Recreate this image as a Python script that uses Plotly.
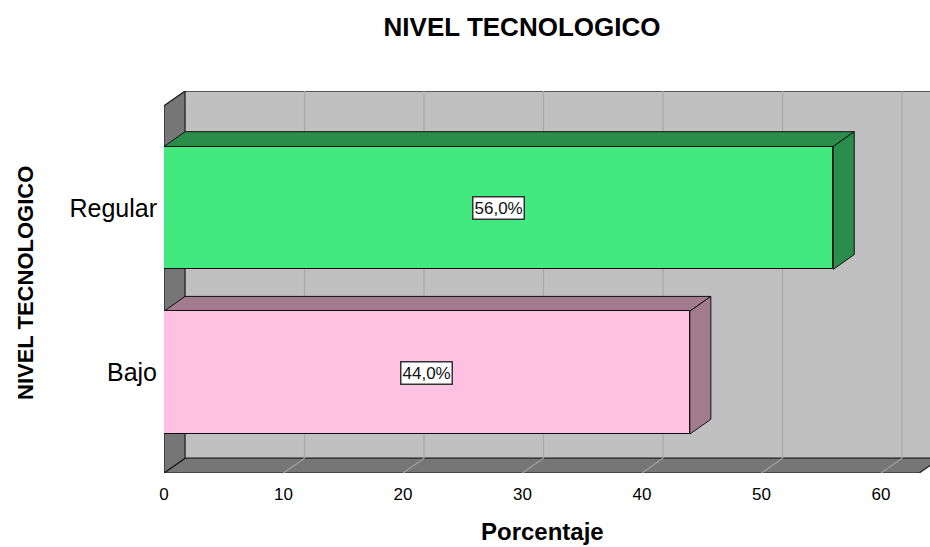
import plotly.graph_objects as go

# Data
categories = ["Bajo", "Regular"]
percentages = [44.0, 56.0]
front_colors = ["#FEC1E1", "#41E97E"]
side_colors = ["#A27C8C", "#2A8D4A"]
x_ticks = [0, 10, 20, 30, 40, 50, 60]

# Pseudo-3D geometry (axis units)
DX, DY = 1.76, 0.09          # depth offset of the back plane
HALF = 0.373                 # half bar thickness
Y_FLOOR, Y_TOP = -0.609, 1.62
X_RANGE = [0, 64.1]
FLOOR_END = 63.2
FONT = "Liberation Sans, Arial"

def poly(pts):
    return "M " + " L ".join(f"{x},{y}" for x, y in pts) + " Z"

shapes = []
# back wall
shapes.append(dict(type="path", layer="below", xref="x", yref="y",
                   path=poly([(DX, Y_FLOOR + DY), (80, Y_FLOOR + DY), (80, Y_TOP + DY), (DX, Y_TOP + DY)]),
                   fillcolor="#C0C0C0", line=dict(width=0)))
shapes.append(dict(type="line", layer="below", xref="x", yref="y",
                   x0=DX, x1=80, y0=Y_TOP + DY, y1=Y_TOP + DY, line=dict(color="#333333", width=1.5)))
# floor
shapes.append(dict(type="path", layer="below", xref="x", yref="y",
                   path=poly([(0, Y_FLOOR), (FLOOR_END, Y_FLOOR), (FLOOR_END + DX, Y_FLOOR + DY), (DX, Y_FLOOR + DY)]),
                   fillcolor="#767676", line=dict(color="#1a1a1a", width=1.2)))
# left wall
shapes.append(dict(type="path", layer="below", xref="x", yref="y",
                   path=poly([(0, Y_FLOOR), (0, Y_TOP), (DX, Y_TOP + DY), (DX, Y_FLOOR + DY)]),
                   fillcolor="#767676", line=dict(color="#1a1a1a", width=1.2)))
# grid lines on back wall and floor
for t in x_ticks[1:]:
    shapes.append(dict(type="line", layer="below", xref="x", yref="y",
                       x0=t + DX, x1=t + DX, y0=Y_FLOOR + DY, y1=Y_TOP + DY,
                       line=dict(color="#A8A8A8", width=1.2)))
    shapes.append(dict(type="line", layer="below", xref="x", yref="y",
                       x0=t, x1=t + DX, y0=Y_FLOOR, y1=Y_FLOOR + DY,
                       line=dict(color="#A0A0A0", width=1.2)))
# bar top and side faces
for i, (v, sc) in enumerate(zip(percentages, side_colors)):
    top, bot = i + HALF, i - HALF
    shapes.append(dict(type="path", layer="below", xref="x", yref="y",
                       path=poly([(0, top), (v, top), (v + DX, top + DY), (DX, top + DY)]),
                       fillcolor=sc, line=dict(color="#111111", width=1)))
    shapes.append(dict(type="path", layer="below", xref="x", yref="y",
                       path=poly([(v, bot), (v, top), (v + DX, top + DY), (v + DX, bot + DY)]),
                       fillcolor=sc, line=dict(color="#111111", width=1)))

fig = go.Figure()
fig.add_trace(go.Bar(
    y=list(range(len(categories))), x=percentages, orientation="h",
    width=2 * HALF, marker=dict(color=front_colors, line=dict(color="#111111", width=1)),
    hoverinfo="skip", showlegend=False,
))

annotations = []
for i, v in enumerate(percentages):
    annotations.append(dict(
        x=v / 2, y=i, xref="x", yref="y", showarrow=False,
        text=f"{v:.1f}".replace(".", ",") + "%",
        font=dict(family=FONT, size=17, color="#111111"),
        bgcolor="white", bordercolor="#333333", borderwidth=1.5, borderpad=1,
    ))
annotations.append(dict(
    x=(25 - 164) / 766, y=(473 - 283) / 382, xref="paper", yref="paper",
    xanchor="center", yanchor="middle",
    showarrow=False, textangle=-90, text="<b>NIVEL TECNOLOGICO</b>",
    font=dict(family=FONT, size=22, color="#000000"),
))
annotations.append(dict(
    x=(542 - 164) / 766, y=(473 - 531) / 382, xref="paper", yref="paper",
    xanchor="center", yanchor="middle",
    showarrow=False, text="<b>Porcentaje</b>",
    font=dict(family=FONT, size=24, color="#000000"),
))

fig.update_layout(
    width=930, height=547,
    margin=dict(l=164, r=0, t=91, b=74),
    paper_bgcolor="white", plot_bgcolor="white",
    title=dict(text="<b>NIVEL TECNOLOGICO</b>", x=522 / 930, xanchor="center",
               y=1 - 27 / 547, yanchor="middle",
               font=dict(family=FONT, size=26, color="#000000")),
    shapes=shapes, annotations=annotations,
    xaxis=dict(range=X_RANGE, tickvals=x_ticks, ticktext=[str(t) for t in x_ticks],
               showgrid=False, zeroline=False, showline=False, ticks="",
               ticklabelstandoff=9,
               tickfont=dict(family=FONT, size=17, color="#000000")),
    yaxis=dict(range=[Y_FLOOR, Y_TOP + DY], tickvals=list(range(len(categories))),
               ticktext=categories, showgrid=False, zeroline=False, showline=False,
               ticks="", ticklabelstandoff=6,
               tickfont=dict(family=FONT, size=25, color="#000000")),
    bargap=0,
)

fig.write_html("out.html")
